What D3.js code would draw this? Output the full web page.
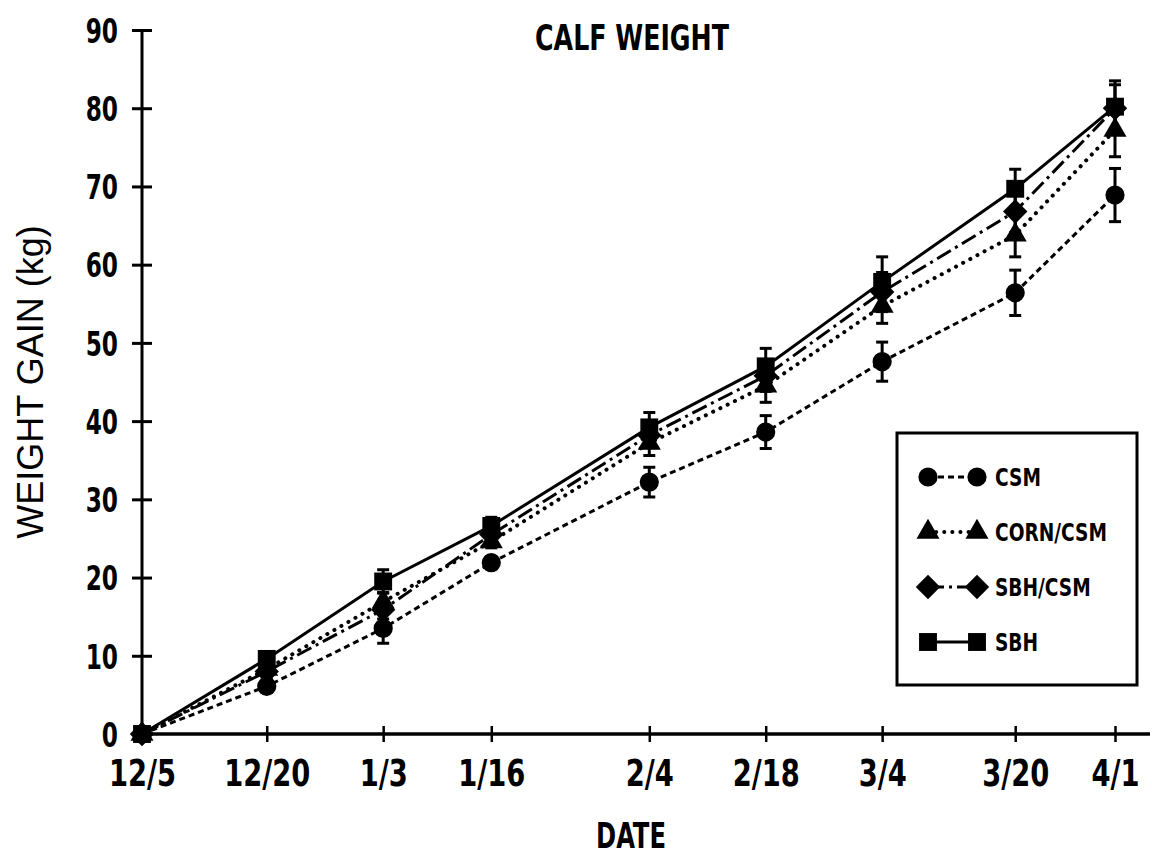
<!DOCTYPE html>
<html>
<head>
<meta charset="utf-8">
<script src="https://cdn.jsdelivr.net/npm/d3@7"></script>
<style>
  body { margin: 0; background: #fff; }
  svg text { font-family: "DejaVu Sans Condensed", "DejaVu Sans", sans-serif; font-weight: bold; fill: #000; }
</style>
</head>
<body>
<div class="layout"></div>
<script>
// dates of weighing (season 1985/86)
var dates = ["1985-12-05", "1985-12-20", "1986-01-03", "1986-01-16", "1986-02-04",
             "1986-02-18", "1986-03-04", "1986-03-20", "1986-04-01"];
var tickLabels = ["12/5", "12/20", "1/3", "1/16", "2/4", "2/18", "3/4", "3/20", "4/1"];
var yTicks = [0, 10, 20, 30, 40, 50, 60, 70, 80, 90];

var seriesNames = ["CSM", "CORN/CSM", "SBH/CSM", "SBH"];

// mean weight gain (kg)
var csm     = [0, 6.1, 13.5, 21.9, 32.2, 38.6, 47.6, 56.4, 68.9];
var cornCsm = [0, 8.3, 16.9, 24.6, 37.2, 44.5, 54.7, 63.8, 77.2];
var sbhCsm  = [0, 8.0, 15.9, 25.5, 38.2, 45.8, 56.5, 66.8, 80.0];
var sbh     = [0, 9.6, 19.5, 26.6, 39.2, 47.0, 57.8, 69.7, 80.2];

// standard error bars
var csmErr     = [0, 0.8, 1.9, 0.8, 1.9, 2.1, 2.5, 2.9, 3.4];
var cornCsmErr = [0, 0.8, 1.2, 0.8, 1.6, 2.1, 2.2, 2.8, 3.4];
var sbhCsmErr  = [0, 0.8, 1.2, 0.8, 1.6, 2.0, 2.5, 2.7, 3.0];
var sbhErr     = [0, 0.8, 1.5, 1.1, 1.9, 2.3, 3.2, 2.5, 3.3];

var parseDate = d3.timeParse("%Y-%m-%d");

// squeeze text horizontally, the plotter lettering is narrower than any installed font
function narrow(sel, k) {
        sel.each(function() {
                var len = this.getComputedTextLength();
                d3.select(this)
                        .attr("textLength", len * k)
                        .attr("lengthAdjust", "spacingAndGlyphs");
        });
}

var x = d3.scaleTime()
        .domain([parseDate(dates[0]), parseDate(dates[dates.length - 1])])
        .range([142, 1115]);

var y = d3.scaleLinear()
        .domain([0, 90])
        .range([734, 30]);

var styles = [
        {symbol: d3.symbolCircle,   size: 290, dash: "6,4",      cap: "butt"},
        {symbol: d3.symbolTriangle, size: 230, dash: "0.1,8",    cap: "round"},
        {symbol: d3.symbolDiamond2, size: 380, dash: "16,5,3,5", cap: "butt"},
        {symbol: d3.symbolSquare,   size: 320, dash: null,       cap: "butt"}
];

var series = [csm, cornCsm, sbhCsm, sbh].map(function(vals, i) {
        var errs = [csmErr, cornCsmErr, sbhCsmErr, sbhErr][i];
        return {
                name: seriesNames[i],
                style: styles[i],
                points: vals.map(function(v, j) {
                        return {date: parseDate(dates[j]), value: v, err: errs[j]};
                })
        };
});

var svg = d3.select(".layout").append("svg")
        .attr("width", 1152)
        .attr("height", 857);

// axes
var yAxis = d3.axisLeft(y)
        .tickValues(yTicks)
        .tickSize(10)
        .tickPadding(14);

var gy = svg.append("g")
        .attr("transform", "translate(" + x.range()[0] + ",0)")
        .call(yAxis);
gy.select(".domain").remove();
gy.selectAll(".tick line").attr("x1", 10).attr("stroke-width", 3);
gy.selectAll(".tick text")
        .style("font-size", "34px")
        .attr("dy", "0.36em")
        .call(narrow, 0.76);

var xAxis = d3.axisBottom(x)
        .tickValues(dates.map(parseDate))
        .tickFormat(function(d, i) { return tickLabels[i]; })
        .tickSize(8)
        .tickPadding(17);

var gx = svg.append("g")
        .attr("transform", "translate(0," + y(0) + ")")
        .call(xAxis);
gx.select(".domain").remove();
gx.selectAll(".tick line").attr("y1", -8).attr("stroke-width", 2.5);
gx.selectAll(".tick text")
        .style("font-size", "38px")
        .call(narrow, 0.8);

svg.append("line")
        .attr("x1", x.range()[0]).attr("x2", x.range()[0])
        .attr("y1", y(0)).attr("y2", y(90))
        .attr("stroke", "#000").attr("stroke-width", 3);

svg.append("line")
        .attr("x1", x.range()[0]).attr("x2", 1150)
        .attr("y1", y(0)).attr("y2", y(0))
        .attr("stroke", "#000").attr("stroke-width", 3.5);

// lines
var line = d3.line()
        .x(function(d) { return x(d.date); })
        .y(function(d) { return y(d.value); });

svg.selectAll(".series")
        .data(series)
        .enter().append("path")
        .attr("class", "series")
        .attr("d", function(d) { return line(d.points); })
        .attr("fill", "none")
        .attr("stroke", "#000")
        .attr("stroke-width", function(d) { return d.style.cap == "round" ? 4 : 3; })
        .attr("stroke-linecap", function(d) { return d.style.cap; })
        .attr("stroke-dasharray", function(d) { return d.style.dash; });

// error bars
var bars = svg.append("g").selectAll("g")
        .data(series)
        .enter().append("g")
        .selectAll("g")
        .data(function(d) { return d.points.filter(function(p) { return p.err > 0; }); })
        .enter().append("g")
        .attr("stroke", "#000")
        .attr("stroke-width", 3);

bars.append("line")
        .attr("x1", function(d) { return x(d.date); })
        .attr("x2", function(d) { return x(d.date); })
        .attr("y1", function(d) { return y(d.value - d.err); })
        .attr("y2", function(d) { return y(d.value + d.err); });
bars.append("line")
        .attr("x1", function(d) { return x(d.date) - 6; })
        .attr("x2", function(d) { return x(d.date) + 6; })
        .attr("y1", function(d) { return y(d.value + d.err); })
        .attr("y2", function(d) { return y(d.value + d.err); });
bars.append("line")
        .attr("x1", function(d) { return x(d.date) - 6; })
        .attr("x2", function(d) { return x(d.date) + 6; })
        .attr("y1", function(d) { return y(d.value - d.err); })
        .attr("y2", function(d) { return y(d.value - d.err); });

// markers
svg.append("g").selectAll("g")
        .data(series)
        .enter().append("g")
        .each(function(s) {
                d3.select(this).selectAll("path")
                        .data(s.points)
                        .enter().append("path")
                        .attr("transform", function(d) { return "translate(" + x(d.date) + "," + y(d.value) + ")"; })
                        .attr("d", d3.symbol().type(s.style.symbol).size(s.style.size))
                        .attr("fill", "#000");
        });

// titles
svg.append("text")
        .attr("x", 632).attr("y", 50)
        .attr("text-anchor", "middle")
        .style("font-size", "36px")
        .text("CALF WEIGHT")
        .call(narrow, 0.78);

svg.append("text")
        .attr("x", 631).attr("y", 848)
        .attr("text-anchor", "middle")
        .style("font-size", "35px")
        .text("DATE")
        .call(narrow, 0.77);

svg.append("text")
        .attr("transform", "translate(43,382) rotate(-90)")
        .attr("text-anchor", "middle")
        .style("font-family", "'Liberation Sans', sans-serif")
        .style("font-weight", "normal")
        .style("font-size", "36px")
        .text("WEIGHT GAIN (kg)");

// legend
var legend = svg.append("g");
legend.append("rect")
        .attr("x", 897).attr("y", 433)
        .attr("width", 240).attr("height", 252)
        .attr("fill", "none")
        .attr("stroke", "#000")
        .attr("stroke-width", 3);

var rows = legend.selectAll(".row")
        .data(series)
        .enter().append("g")
        .attr("class", "row")
        .attr("transform", function(d, i) { return "translate(0," + (477 + i * 55) + ")"; });

rows.append("line")
        .attr("x1", 928).attr("x2", 977)
        .attr("stroke", "#000")
        .attr("stroke-width", function(d) { return d.style.cap == "round" ? 4 : 3; })
        .attr("stroke-linecap", function(d) { return d.style.cap; })
        .attr("stroke-dasharray", function(d) { return d.style.dash; });

[928, 977].forEach(function(cx) {
        rows.append("path")
                .attr("transform", "translate(" + cx + ",0)")
                .attr("d", function(d) { return d3.symbol().type(d.style.symbol).size(d.style.size)(); })
                .attr("fill", "#000");
});

rows.append("text")
        .attr("x", 995).attr("y", 9)
        .style("font-size", "24px")
        .text(function(d) { return d.name; })
        .call(narrow, 0.86);
</script>
</body>
</html>
